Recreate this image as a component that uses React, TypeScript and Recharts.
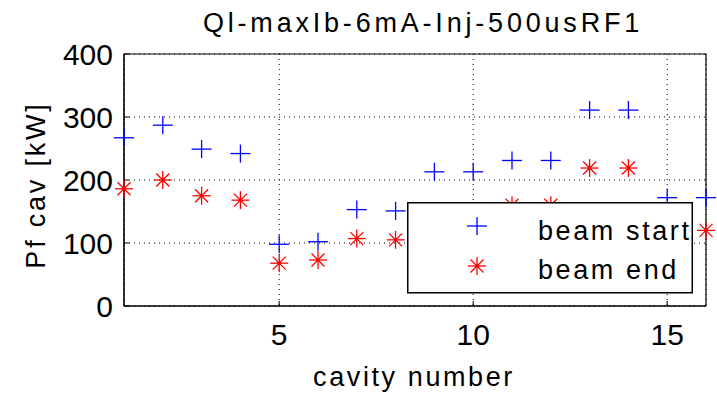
import { ScatterChart, Scatter, XAxis, YAxis, CartesianGrid, ReferenceArea } from "recharts";

const cavity = [1, 2, 3, 4, 5, 6, 7, 8, 9, 10, 11, 12, 13, 14, 15, 16];
const beamStart = [267, 287, 249, 242, 98, 102, 153, 151, 213, 213, 231, 231, 311, 311, 172, 172];
const beamEnd = [186, 200, 175, 168, 68, 73, 107, 105, 148, 148, 160, 160, 219, 219, 120, 120];
const xTicks = [5, 10, 15];
const yTicks = [0, 100, 200, 300, 400];
const xDomain = [1, 16];
const yDomain = [0, 400];

const TITLE = "Ql-maxIb-6mA-Inj-500usRF1";
const X_LABEL = "cavity number";
const Y_LABEL = "Pf cav [kW]";
const LEGEND = ["beam start", "beam end"];

const FONT = "'Liberation Sans', Arial, sans-serif";
const BLUE = "#0000ff";
const RED = "#ff0000";

const startData = cavity.map((c, i) => ({ x: c, y: beamStart[i] }));
const endData = cavity.map((c, i) => ({ x: c, y: beamEnd[i] }));

function Plus({ cx = 0, cy = 0 }: { cx?: number; cy?: number }) {
  return (
    <g stroke={BLUE} strokeWidth={1.3}>
      <line x1={cx - 10} y1={cy} x2={cx + 10} y2={cy} />
      <line x1={cx} y1={cy - 9} x2={cx} y2={cy + 9} />
    </g>
  );
}

function Star({ cx = 0, cy = 0 }: { cx?: number; cy?: number }) {
  const d = 6.5;
  return (
    <g stroke={RED} strokeWidth={1.3}>
      <line x1={cx - 9} y1={cy} x2={cx + 9} y2={cy} />
      <line x1={cx} y1={cy - 9} x2={cx} y2={cy + 9} />
      <line x1={cx - d} y1={cy - d} x2={cx + d} y2={cy + d} />
      <line x1={cx - d} y1={cy + d} x2={cx + d} y2={cy - d} />
      <circle cx={cx} cy={cy} r={1.8} fill={RED} stroke="none" />
    </g>
  );
}

const tickStyle = { fill: "#000", fontSize: 30, fontFamily: FONT };

export default function App() {
  return (
    <div style={{ position: "absolute", left: 0, top: 0, width: 717, height: 394, background: "#fff" }}>
      <ScatterChart width={717} height={394} margin={{ top: 54, right: 11, bottom: 0, left: 0 }}>
        <CartesianGrid stroke="#000" strokeDasharray="1 4" />
        {/* MATLAB style box round the axes */}
        <ReferenceArea
          x1={xDomain[0]}
          x2={xDomain[1]}
          y1={yDomain[0]}
          y2={yDomain[1]}
          fill="none"
          stroke="#000"
          strokeWidth={1.2}
          ifOverflow="visible"
        />
        <XAxis
          type="number"
          dataKey="x"
          domain={xDomain}
          ticks={xTicks}
          height={88}
          tick={tickStyle}
          tickSize={-5}
          tickMargin={23}
          stroke="#000"
        />
        <YAxis
          type="number"
          dataKey="y"
          domain={yDomain}
          ticks={yTicks}
          width={124}
          tick={tickStyle}
          tickSize={-5}
          tickMargin={16}
          stroke="#000"
        />
        <Scatter data={startData} shape={Plus} isAnimationActive={false} />
        <Scatter data={endData} shape={Star} isAnimationActive={false} />
      </ScatterChart>
      <svg width={717} height={394} style={{ position: "absolute", left: 0, top: 0 }}>
        <text x={423} y={32} textAnchor="middle" fontSize={27} letterSpacing={3.8} fontFamily={FONT} fill="#000">
          {TITLE}
        </text>
        <text x={414} y={386} textAnchor="middle" fontSize={27} letterSpacing={2.6} fontFamily={FONT} fill="#000">
          {X_LABEL}
        </text>
        <text
          transform="translate(45,185) rotate(-90)"
          textAnchor="middle"
          fontSize={27}
          letterSpacing={2.8}
          fontFamily={FONT}
          fill="#000"
        >
          {Y_LABEL}
        </text>
        <g transform="translate(407,202)">
          <rect x={0.75} y={0.75} width={284.5} height={90} fill="#fff" stroke="#000" strokeWidth={1.5} />
          <Plus cx={70} cy={24} />
          <Star cx={70} cy={64} />
          <text x={131} y={38} fontSize={27} letterSpacing={2.6} fontFamily={FONT} fill="#000">
            {LEGEND[0]}
          </text>
          <text x={131} y={77} fontSize={27} letterSpacing={2.6} fontFamily={FONT} fill="#000">
            {LEGEND[1]}
          </text>
        </g>
      </svg>
    </div>
  );
}
